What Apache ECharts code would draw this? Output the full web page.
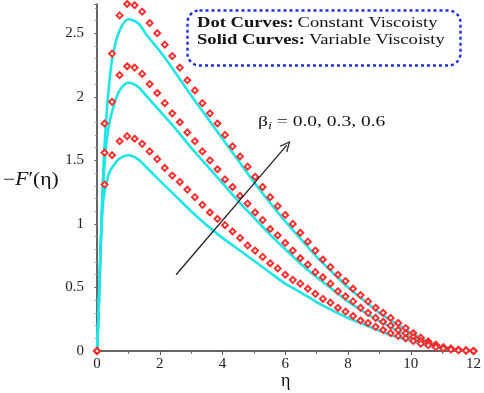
<!DOCTYPE html>
<html><head><meta charset="utf-8">
<script src="https://cdn.jsdelivr.net/npm/echarts@6/dist/echarts.min.js"></script>
<style>html,body{margin:0;padding:0;background:#fff}#c{width:484px;height:393px}</style>
</head><body><div id="c"></div>
<script>
// η grid of the dot (constant viscosity) curves
const etaDots = [0,0.24,0.48,0.72,0.96,1.2,1.44,1.68,1.92,2.16,2.4,2.64,2.88,3.12,3.36,3.6,3.84,4.08,4.32,4.56,4.8,5.04,5.28,5.52,5.76,6,6.24,6.48,6.72,6.96,7.2,7.44,7.68,7.92,8.16,8.4,8.64,8.88,9.12,9.36,9.6,9.84,10.08,10.32,10.56,10.8,11.04,11.28,11.52,11.76,12];
const dotTop = [0,1.79,2.34,2.64,2.73,2.72,2.67,2.58,2.50,2.41,2.32,2.23,2.13,2.05,1.95,1.87,1.79,1.70,1.61,1.53,1.45,1.37,1.29,1.21,1.14,1.07,1.00,0.93,0.86,0.79,0.72,0.66,0.60,0.55,0.49,0.44,0.39,0.34,0.30,0.26,0.22,0.18,0.14,0.105,0.075,0.05,0.03,0.02,0.01,0.005,0];
const dotMid = [0,1.56,1.96,2.17,2.24,2.23,2.18,2.10,2.03,1.95,1.87,1.80,1.72,1.65,1.57,1.50,1.43,1.35,1.29,1.22,1.16,1.09,1.03,0.96,0.91,0.85,0.79,0.73,0.68,0.62,0.58,0.53,0.47,0.43,0.39,0.34,0.30,0.26,0.23,0.20,0.165,0.14,0.11,0.08,0.06,0.04,0.025,0.015,0.008,0.004,0];
const dotBot = [0,1.31,1.54,1.65,1.69,1.67,1.63,1.57,1.51,1.44,1.38,1.33,1.27,1.21,1.15,1.09,1.04,0.99,0.94,0.89,0.83,0.79,0.74,0.69,0.65,0.60,0.56,0.53,0.49,0.45,0.41,0.38,0.34,0.31,0.275,0.24,0.22,0.19,0.165,0.14,0.118,0.10,0.079,0.058,0.045,0.03,0.02,0.012,0.006,0.003,0];
// η grid of the solid (variable viscosity) curves
const etaSolid = [0,0.05,0.1,0.15,0.2,0.3,0.4,0.5,0.7,1.0,1.3,1.6,2,2.5,3,3.5,4,4.5,5,5.5,6,6.5,7,7.5,8,8.5,9,9.5,10,10.5,11,11.5,12];
const solidTop = [0,0.3,0.7,1.08,1.42,1.85,2.13,2.32,2.51,2.61,2.58,2.48,2.36,2.19,2.01,1.84,1.67,1.50,1.33,1.17,1.02,0.88,0.74,0.62,0.50,0.40,0.30,0.22,0.145,0.08,0.035,0.01,0];
const solidMid = [0,0.3,0.7,1.05,1.32,1.64,1.80,1.90,2.04,2.11,2.08,2.00,1.89,1.75,1.60,1.46,1.32,1.18,1.05,0.92,0.80,0.685,0.58,0.485,0.39,0.31,0.235,0.17,0.11,0.06,0.028,0.009,0];
const solidBot = [0,0.3,0.7,1.0,1.18,1.32,1.41,1.45,1.51,1.54,1.51,1.44,1.34,1.22,1.10,0.99,0.89,0.80,0.71,0.62,0.53,0.46,0.385,0.32,0.26,0.21,0.16,0.115,0.08,0.045,0.02,0.007,0];
// annotation arrow (data coords)
const arrowFrom = [2.52, 0.60];
const arrowTo = [6.05, 1.62];
const xTicks = [0, 2, 4, 6, 8, 10, 12];
const yTicks = [0, 0.5, 1, 1.5, 2, 2.5];

const zip = (xs, ys) => xs.map((x, i) => [x, ys[i]]);
const serif = '"Liberation Serif", "DejaVu Serif", serif';
const cyan = '#1fe6e6';

function solid(d) {
  return { type: 'line', data: zip(etaSolid, d), smooth: 0.3, showSymbol: false,
    lineStyle: { color: cyan, width: 2.6 }, z: 2, animation: false };
}
function dots(d) {
  return { type: 'line', data: zip(etaDots, d), symbol: 'diamond', symbolSize: 6,
    lineStyle: { opacity: 0 }, itemStyle: { color: '#ffffff', borderColor: '#ff2a2a', borderWidth: 1.9 },
    z: 3, animation: false };
}

const chart = echarts.init(document.getElementById('c'), null, { renderer: 'canvas' });
chart.setOption({
  backgroundColor: '#ffffff',
  animation: false,
  grid: { left: 97, right: 8, top: 4, bottom: 42 },
  xAxis: {
    type: 'value', min: 0, max: 12, interval: 2,
    axisLine: { show: true, lineStyle: { color: '#333', width: 1.5 } },
    axisTick: { show: true, length: 4, lineStyle: { color: '#555' } },
    minorTick: { show: true, splitNumber: 2, length: 3, lineStyle: { color: '#777' } },
    splitLine: { show: false },
    axisLabel: { fontFamily: serif, fontSize: 15, color: '#222', margin: 6,
      formatter: v => xTicks.includes(v) ? String(v) : '' }
  },
  yAxis: {
    type: 'value', min: 0, max: 2.73, interval: 0.5,
    axisLine: { show: true, lineStyle: { color: '#333', width: 1.5 } },
    axisTick: { show: true, length: 3, lineStyle: { color: '#777' } },
    minorTick: { show: true, splitNumber: 5, length: 2, lineStyle: { color: '#999' } },
    splitLine: { show: false },
    axisLabel: { fontFamily: serif, fontSize: 15, color: '#222', margin: 13, showMaxLabel: false,
      formatter: v => yTicks.includes(v) ? String(v) : '' }
  },
  series: [
    solid(solidTop), solid(solidMid), solid(solidBot),
    dots(dotTop), dots(dotMid), dots(dotBot),
    { type: 'line', data: [], animation: false, z: 4,
      markLine: { silent: true, symbol: ['none', 'path://M5,0 L10,10 L8.8,10.4 L5,2.6 L1.2,10.4 L0,10 Z'],
        symbolSize: [10, 11], label: { show: false },
        lineStyle: { color: '#222', width: 1.3, type: 'solid' },
        data: [[{ coord: arrowFrom }, { coord: arrowTo }]] } }
  ],
  graphic: [
    { type: 'rect', left: 185, top: 8, shape: { width: 273, height: 55, r: 12 },
      style: { fill: 'none', stroke: '#1f2fe0', lineWidth: 2.4, lineDash: [3, 3] }, z: 10 },
    { type: 'text', left: 197, top: 15, z: 11, scaleX: 1.2,
      style: { text: '{b|Dot Curves:} {r|Constant Viscoisty}',
        rich: { b: { fontFamily: serif, fontWeight: 'bold', fontSize: 15.5, fill: '#111' },
                r: { fontFamily: serif, fontSize: 15.5, fill: '#111' } } } },
    { type: 'text', left: 197, top: 32, z: 11, scaleX: 1.2,
      style: { text: '{b|Solid Curves:} {r|Variable Viscoisty}',
        rich: { b: { fontFamily: serif, fontWeight: 'bold', fontSize: 15.5, fill: '#111' },
                r: { fontFamily: serif, fontSize: 15.5, fill: '#111' } } } },
    { type: 'text', left: 258, top: 115, z: 11, scaleX: 1.3,
      style: { text: '{n|β}{s|i}{n| = 0.0, 0.3, 0.6}',
        rich: { n: { fontFamily: serif, fontSize: 15, fill: '#111' },
                s: { fontFamily: serif, fontSize: 11, fontStyle: 'italic', fill: '#111', verticalAlign: 'bottom', padding: [7, 0, 0, 0] } } } },
    { type: 'text', left: 3, top: 171, z: 11, scaleX: 1.2,
      style: { text: '{n|−}{i|F}{n|′(η)}',
        rich: { n: { fontFamily: serif, fontSize: 18, fill: '#111' },
                i: { fontFamily: serif, fontSize: 18, fontStyle: 'italic', fill: '#111' } } } },
    { type: 'text', left: 281, top: 372, z: 11,
      style: { text: 'η', fontFamily: serif, fontSize: 18, fill: '#111' } }
  ]
});
</script></body></html>
